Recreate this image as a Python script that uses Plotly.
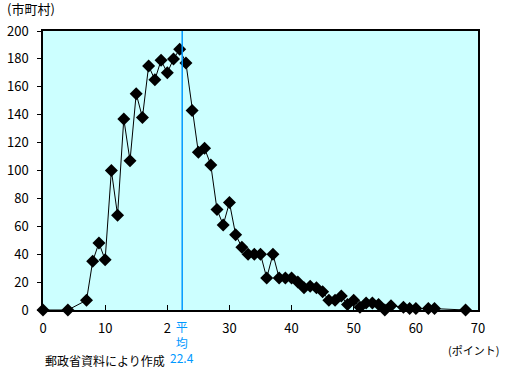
import plotly.graph_objects as go

points = [0, 4, 7, 8, 9, 10, 11, 12, 13, 14, 15, 16, 17, 18, 19, 20, 21, 22, 23, 24, 25, 26,
          27, 28, 29, 30, 31, 32, 33, 34, 35, 36, 37, 38, 39, 40, 41, 42, 43, 44, 45, 46, 47,
          48, 49, 50, 51, 52, 53, 54, 55, 56, 58, 59, 60, 62, 63, 68]
counts = [0, 0, 7, 35, 48, 36, 100, 68, 137, 107, 155, 138, 175, 165, 179, 170, 180, 187, 177,
          143, 113, 116, 104, 72, 61, 77, 54, 45, 40, 40, 40, 23, 40, 23, 23, 23, 20, 16, 17, 16,
          13, 7, 7, 10, 4, 7, 2, 5, 5, 4, 0, 3, 2, 1, 1, 1, 1, 0]
x_tickvals = [0, 10, 20, 30, 40, 50, 60, 70]
x_ticktext = ["0", "10", "2", "30", "40", "50", "60", "70"]
mean_value = 22.4

FONT = "Noto Sans CJK JP"
BLUE = "#0099FF"

fig = go.Figure()
fig.add_trace(go.Scatter(
    x=points, y=counts, mode="lines+markers",
    line=dict(color="black", width=1),
    marker=dict(symbol="diamond", size=10, color="black"),
    showlegend=False, cliponaxis=False,
))

fig.add_shape(type="line", xref="x", yref="paper", x0=mean_value, x1=mean_value, y0=0, y1=1,
              line=dict(color=BLUE, width=1.5))

fig.add_annotation(x=mean_value, xref="x", y=-6/279, yref="paper", yanchor="top",
                   text="平<br>均<br>" + str(mean_value), showarrow=False,
                   font=dict(family=FONT, size=12, color=BLUE), align="center")
fig.add_annotation(x=-38/435, xref="paper", y=1 + 23/279, yref="paper", xanchor="left", yanchor="middle",
                   text="(市町村)", showarrow=False, font=dict(family=FONT, size=13, color="black"))
fig.add_annotation(x=1 + 23/435, xref="paper", y=-40/279, yref="paper", xanchor="right", yanchor="middle",
                   text="(ポイント)", showarrow=False, font=dict(family=FONT, size=11, color="black"))
fig.add_annotation(x=0, xref="paper", y=-50/279, yref="paper", xanchor="left", yanchor="middle",
                   text="郵政省資料により作成", showarrow=False, font=dict(family=FONT, size=12, color="black"))

fig.update_layout(
    width=506, height=370,
    margin=dict(l=43, r=28, t=31, b=60),
    paper_bgcolor="white", plot_bgcolor="#CCFFFF",
    font=dict(family=FONT, size=12, color="black"),
    xaxis=dict(range=[0, 70], tickvals=x_tickvals, ticktext=x_ticktext, ticks="inside",
               ticklen=5, tickcolor="black", showgrid=False, zeroline=False,
               showline=True, linecolor="black", linewidth=1.5, mirror=True, automargin=False,
               ticklabelstandoff=6, tickfont=dict(size=13, family=FONT)),
    yaxis=dict(range=[0, 200], dtick=20, ticks="outside", ticklen=4, tickcolor="black",
               showgrid=False, zeroline=False, showline=True, linecolor="black", linewidth=1.5,
               mirror=True, automargin=False, ticklabelstandoff=6, tickfont=dict(size=13, family=FONT)),
)

fig.write_html("out.html", config={"displayModeBar": False},
               post_script="document.body.style.margin='0';")
